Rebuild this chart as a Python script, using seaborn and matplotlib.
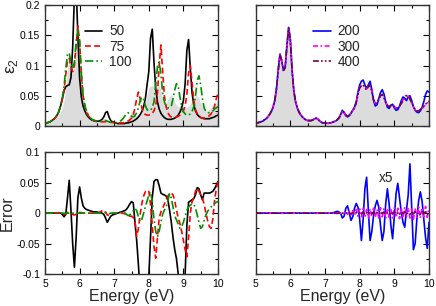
import numpy as np
import pandas as pd
import matplotlib
matplotlib.use("Agg")
import matplotlib.pyplot as plt
from matplotlib.ticker import AutoMinorLocator
import seaborn as sns

# energy grid (eV), 0.05 step
energy = [5.00 + 0.05 * i for i in range(101)]
energy = [round(e, 2) for e in energy]

# exact spectrum (grey fill)
eps_exact = [
    0.004, 0.005, 0.006, 0.007, 0.008, 0.010, 0.012, 0.015, 0.019, 0.024,
    0.031, 0.042, 0.062, 0.092, 0.118, 0.108, 0.092, 0.096, 0.132, 0.162,
    0.142, 0.092, 0.058, 0.040, 0.030, 0.023, 0.018, 0.015, 0.012, 0.010,
    0.009, 0.009, 0.009, 0.010, 0.012, 0.013, 0.011, 0.008, 0.006, 0.005,
    0.005, 0.0045, 0.0045, 0.005, 0.006, 0.007, 0.008, 0.010, 0.013, 0.018,
    0.024, 0.023, 0.018, 0.016, 0.018, 0.022, 0.026, 0.030, 0.038, 0.052,
    0.063, 0.066, 0.068, 0.063, 0.060, 0.065, 0.068, 0.058, 0.044, 0.037,
    0.038, 0.044, 0.050, 0.052, 0.047, 0.039, 0.034, 0.032, 0.034, 0.035,
    0.032, 0.030, 0.030, 0.033, 0.037, 0.042, 0.046, 0.050, 0.050, 0.045,
    0.038, 0.032, 0.027, 0.025, 0.025, 0.027, 0.030, 0.033, 0.036, 0.039,
    0.042]

eps_50 = [
    0.004, 0.005, 0.006, 0.007, 0.009, 0.011, 0.014, 0.018, 0.024, 0.033,
    0.045, 0.058, 0.065, 0.067, 0.068, 0.080, 0.130, 0.215, 0.230, 0.150,
    0.080, 0.048, 0.033, 0.025, 0.019, 0.015, 0.012, 0.010, 0.009, 0.008,
    0.008, 0.008, 0.009, 0.011, 0.015, 0.022, 0.024, 0.015, 0.009, 0.007,
    0.006, 0.005, 0.004, 0.004, 0.004, 0.004, 0.004, 0.005, 0.005, 0.006,
    0.007, 0.008, 0.010, 0.012, 0.015, 0.019, 0.024, 0.032, 0.045, 0.068,
    0.090, 0.145, 0.160, 0.105, 0.062, 0.040, 0.028, 0.021, 0.017, 0.014,
    0.012, 0.011, 0.011, 0.011, 0.012, 0.013, 0.015, 0.018, 0.023, 0.030,
    0.042, 0.070, 0.125, 0.143, 0.095, 0.055, 0.035, 0.025, 0.019, 0.016,
    0.014, 0.013, 0.012, 0.012, 0.012, 0.012, 0.013, 0.014, 0.015, 0.017,
    0.018]

eps_75 = [
    0.004, 0.005, 0.006, 0.007, 0.009, 0.011, 0.014, 0.018, 0.024, 0.033,
    0.045, 0.060, 0.085, 0.108, 0.112, 0.098, 0.090, 0.100, 0.135, 0.165,
    0.140, 0.085, 0.050, 0.032, 0.022, 0.017, 0.013, 0.011, 0.009, 0.008,
    0.007, 0.007, 0.007, 0.007, 0.007, 0.007, 0.007, 0.007, 0.006, 0.006,
    0.005, 0.005, 0.005, 0.005, 0.005, 0.005, 0.006, 0.007, 0.008, 0.010,
    0.013, 0.018, 0.030, 0.045, 0.056, 0.045, 0.030, 0.022, 0.019, 0.018,
    0.018, 0.019, 0.021, 0.025, 0.034, 0.055, 0.100, 0.134, 0.090, 0.050,
    0.032, 0.022, 0.017, 0.015, 0.014, 0.014, 0.015, 0.016, 0.018, 0.021,
    0.025, 0.033, 0.052, 0.088, 0.100, 0.072, 0.042, 0.027, 0.020, 0.016,
    0.014, 0.013, 0.013, 0.014, 0.015, 0.017, 0.020, 0.025, 0.033, 0.045,
    0.055]

eps_100 = [
    0.004, 0.005, 0.006, 0.007, 0.009, 0.011, 0.014, 0.018, 0.024, 0.033,
    0.045, 0.065, 0.095, 0.118, 0.121, 0.105, 0.095, 0.105, 0.140, 0.159,
    0.140, 0.088, 0.052, 0.034, 0.024, 0.018, 0.014, 0.011, 0.010, 0.009,
    0.008, 0.008, 0.008, 0.008, 0.009, 0.009, 0.008, 0.007, 0.006, 0.006,
    0.005, 0.005, 0.006, 0.007, 0.009, 0.012, 0.016, 0.020, 0.022, 0.020,
    0.016, 0.015, 0.017, 0.022, 0.030, 0.042, 0.048, 0.044, 0.034, 0.027,
    0.025, 0.026, 0.030, 0.040, 0.070, 0.098, 0.106, 0.085, 0.055, 0.040,
    0.033, 0.030, 0.030, 0.033, 0.045, 0.060, 0.070, 0.066, 0.048, 0.032,
    0.024, 0.020, 0.018, 0.018, 0.020, 0.024, 0.032, 0.050, 0.075, 0.083,
    0.068, 0.045, 0.030, 0.024, 0.022, 0.022, 0.023, 0.025, 0.028, 0.030,
    0.032]

eps_200 = [
    0.004, 0.005, 0.006, 0.007, 0.008, 0.010, 0.012, 0.015, 0.019, 0.024,
    0.031, 0.042, 0.062, 0.093, 0.119, 0.108, 0.092, 0.097, 0.133, 0.163,
    0.142, 0.092, 0.058, 0.040, 0.030, 0.023, 0.018, 0.015, 0.012, 0.010,
    0.009, 0.009, 0.009, 0.010, 0.012, 0.013, 0.011, 0.008, 0.006, 0.005,
    0.005, 0.0045, 0.0045, 0.005, 0.006, 0.007, 0.008, 0.010, 0.013, 0.019,
    0.026, 0.022, 0.017, 0.015, 0.017, 0.021, 0.026, 0.031, 0.040, 0.056,
    0.068, 0.074, 0.076, 0.068, 0.062, 0.068, 0.074, 0.060, 0.042, 0.033,
    0.035, 0.045, 0.055, 0.060, 0.053, 0.040, 0.031, 0.029, 0.034, 0.036,
    0.030, 0.026, 0.027, 0.033, 0.042, 0.048, 0.046, 0.042, 0.048, 0.050,
    0.042, 0.032, 0.026, 0.023, 0.022, 0.025, 0.031, 0.040, 0.052, 0.058,
    0.056]

eps_300 = [
    0.004, 0.005, 0.006, 0.007, 0.008, 0.010, 0.012, 0.015, 0.019, 0.024,
    0.031, 0.042, 0.062, 0.092, 0.118, 0.108, 0.092, 0.096, 0.132, 0.162,
    0.142, 0.092, 0.058, 0.040, 0.030, 0.023, 0.018, 0.015, 0.012, 0.010,
    0.009, 0.009, 0.009, 0.010, 0.012, 0.013, 0.011, 0.008, 0.006, 0.005,
    0.005, 0.0045, 0.0045, 0.005, 0.006, 0.007, 0.008, 0.010, 0.013, 0.018,
    0.024, 0.023, 0.018, 0.016, 0.018, 0.022, 0.026, 0.030, 0.038, 0.053,
    0.064, 0.067, 0.069, 0.064, 0.061, 0.066, 0.069, 0.058, 0.044, 0.037,
    0.038, 0.044, 0.050, 0.052, 0.047, 0.039, 0.034, 0.032, 0.034, 0.035,
    0.032, 0.030, 0.030, 0.033, 0.037, 0.043, 0.048, 0.052, 0.050, 0.045,
    0.038, 0.032, 0.027, 0.025, 0.025, 0.027, 0.029, 0.032, 0.035, 0.038,
    0.040]

eps_400 = [
    0.004, 0.005, 0.006, 0.007, 0.008, 0.010, 0.012, 0.015, 0.019, 0.024,
    0.031, 0.042, 0.062, 0.092, 0.118, 0.108, 0.092, 0.096, 0.132, 0.162,
    0.142, 0.092, 0.058, 0.040, 0.030, 0.023, 0.018, 0.015, 0.012, 0.010,
    0.009, 0.009, 0.009, 0.010, 0.012, 0.013, 0.011, 0.008, 0.006, 0.005,
    0.005, 0.0045, 0.0045, 0.005, 0.006, 0.007, 0.008, 0.010, 0.013, 0.018,
    0.024, 0.023, 0.018, 0.016, 0.018, 0.022, 0.026, 0.030, 0.038, 0.052,
    0.063, 0.066, 0.068, 0.063, 0.060, 0.065, 0.068, 0.058, 0.044, 0.037,
    0.038, 0.044, 0.050, 0.052, 0.047, 0.039, 0.034, 0.032, 0.034, 0.035,
    0.032, 0.030, 0.030, 0.033, 0.037, 0.042, 0.046, 0.050, 0.050, 0.045,
    0.038, 0.032, 0.027, 0.025, 0.025, 0.027, 0.030, 0.033, 0.036, 0.039,
    0.041]

# errors (bottom row); right panel is already multiplied by 5
err_50 = [
    0, 0, 0, 0, 0, 0, 0, 0, 0, 0,
    -0.002, -0.006, -0.002, 0.025, 0.054, 0.005, -0.050, -0.089, -0.040, 0.025,
    0.043, 0.025, 0.012, 0.008, 0.006, 0.005, 0.004, 0.003, 0.002, 0.002,
    0.002, 0.001, 0.001, 0.000, -0.002, -0.008, -0.015, -0.010, -0.005, -0.003,
    -0.002, -0.001, 0.000, 0.001, 0.002, 0.003, 0.004, 0.006, 0.010, 0.015,
    0.019, 0.017, -0.015, -0.045, -0.085, -0.130, -0.150, -0.150, -0.140, -0.125,
    -0.105, -0.040, 0.025, 0.052, 0.055, 0.055, 0.045, 0.033, 0.031, 0.030,
    0.028, 0.022, 0.005, -0.015, -0.040, -0.060, -0.075, -0.100, -0.130, -0.150,
    -0.140, -0.100, -0.020, 0.018, 0.020, 0.022, 0.024, 0.030, 0.042, 0.040,
    0.030, 0.022, 0.033, 0.033, 0.033, 0.033, 0.034, 0.036, 0.040, 0.046,
    0.052]

err_75 = [
    0, 0, 0, 0, 0, 0, 0, 0, 0, 0,
    -0.001, -0.002, -0.001, 0.001, 0.002, 0.001, -0.002, -0.003, -0.002, 0.001,
    0.001, 0.001, 0, 0, 0, 0, 0, 0, 0, 0,
    0, 0.001, 0.002, 0.004, 0.005, 0.002, -0.003, -0.004, -0.002, 0,
    0, 0, 0, 0, 0, 0, -0.001, -0.002, -0.003, -0.005,
    -0.005, -0.007, -0.014, -0.038, -0.025, -0.002, 0.016, 0.028, 0.035, 0.038,
    0.036, 0.015, -0.020, -0.055, -0.074, -0.040, -0.008, 0.002, 0.008, 0.015,
    0.022, 0.028, 0.033, 0.033, 0.030, 0.020, 0.005, -0.008, -0.017, -0.030,
    -0.045, -0.060, -0.072, -0.040, 0.000, 0.019, 0.025, 0.036, 0.041, 0.036,
    0.030, 0.024, 0.015, 0.000, -0.012, -0.022, -0.025, -0.010, 0.020, 0.040,
    0.052]

err_100 = [
    0, 0, 0, 0, 0, 0, 0, 0, 0, 0,
    0, 0, 0, 0, 0, 0, 0, 0, 0, 0,
    0, 0, 0, 0, 0, 0, 0, 0, 0, 0,
    0, 0, 0, 0, 0.001, 0.001, 0, -0.001, 0, 0,
    0, 0, 0, 0.001, 0.002, 0.002, 0.001, -0.002, -0.004, -0.003,
    0.000, 0.004, 0.008, 0.004, -0.006, -0.014, -0.010, 0.000, 0.010, 0.020,
    0.030, 0.035, 0.020, -0.010, -0.030, -0.039, -0.030, -0.015, -0.002, 0.005,
    0.010, 0.020, 0.032, 0.025, 0.010, -0.005, -0.011, -0.018, -0.025, -0.022,
    -0.015, -0.005, 0.005, 0.010, 0.013, 0.015, 0.015, 0.008, -0.003, -0.015,
    -0.025, -0.022, -0.012, -0.003, 0.003, 0.007, 0.010, 0.013, 0.016, 0.018,
    0.019]

err_200 = [
    0, 0, 0, 0, 0, 0, 0, 0, 0, 0,
    0, 0, 0, 0, 0, 0, 0, 0, 0, 0,
    0, 0, 0, 0, 0, 0, 0, 0, 0, 0,
    0, 0, 0, 0, 0, 0, 0, 0, 0, 0,
    0, 0, 0, 0, 0, 0.001, 0.002, 0.003, 0.002, 0.000,
    -0.008, -0.005, 0.008, 0.012, 0.000, -0.012, -0.006, 0.008, 0.016, 0.010,
    -0.010, -0.045, -0.010, 0.040, 0.059, 0.005, -0.045, -0.030, -0.004, 0.012,
    0.021, 0.010, -0.020, -0.045, -0.030, 0.015, 0.040, 0.015, -0.020, -0.042,
    -0.005, 0.032, 0.049, 0.025, 0.002, -0.015, -0.023, 0.005, 0.030, 0.081,
    0.010, -0.060, -0.050, -0.010, 0.020, 0.035, 0.020, -0.010, -0.040, -0.058,
    -0.015]

err_300 = [
    0, 0, 0, 0, 0, 0, 0, 0, 0, 0,
    0, 0, 0, 0, 0, 0, 0, 0, 0, 0,
    0, 0, 0, 0, 0, 0, 0, 0, 0, 0,
    0, 0, 0, 0, 0, 0, 0, 0, 0, 0,
    0, 0, 0, 0, 0, 0, 0.001, -0.001, 0.001, 0,
    0.000, 0.001, 0.002, -0.002, 0.003, -0.003, 0.004, -0.004, 0.006, -0.005,
    0.007, -0.006, 0.008, -0.007, 0.006, -0.008, 0.007, -0.005, 0.008, -0.007,
    0.006, -0.008, 0.009, -0.006, 0.007, -0.009, 0.008, -0.007, 0.006, -0.008,
    0.009, -0.007, 0.008, -0.009, 0.007, -0.008, 0.010, -0.006, 0.009, -0.008,
    0.007, -0.010, 0.008, -0.007, 0.010, -0.008, 0.009, -0.006, 0.011, -0.007,
    0.008]

err_400 = [
    0, 0, 0, 0, 0, 0, 0, 0, 0, 0,
    0, 0, 0, 0, 0, 0, 0, 0, 0, 0,
    0, 0, 0, 0, 0, 0, 0, 0, 0, 0,
    0, 0, 0, 0, 0, 0, 0, 0, 0, 0,
    0, 0, 0, 0, 0, 0, 0, 0, 0, 0,
    0, 0, 0.001, -0.001, 0.001, -0.001, 0.001, -0.001, 0.001, -0.001,
    0.002, -0.001, 0.002, -0.002, 0.001, -0.002, 0.002, -0.001, 0.002, -0.002,
    0.001, -0.002, 0.002, -0.001, 0.002, -0.002, 0.001, -0.002, 0.002, -0.001,
    0.002, -0.002, 0.001, -0.002, 0.002, -0.001, 0.002, -0.002, 0.001, -0.002,
    0.002, -0.001, 0.002, -0.002, 0.001, -0.002, 0.002, -0.001, 0.002, -0.002,
    0.001]

left_labels = ["50", "75", "100"]
right_labels = ["200", "300", "400"]
x_ticks = [5, 6, 7, 8, 9, 10]
x_ticklabels = ["5", "6", "7", "8", "9", "10"]

sns.set_theme(style="ticks")
plt.rcParams["font.family"] = ["Liberation Sans", "DejaVu Sans"]
plt.rcParams["axes.unicode_minus"] = False
plt.rcParams["mathtext.fontset"] = "custom"
plt.rcParams["mathtext.rm"] = "Liberation Sans"

styles_left = [
    dict(color="black", ls="-"),
    dict(color="#ff0000", ls=(0, (3.5, 2))),
    dict(color="#009000", ls=(0, (5, 1.8, 1, 1.8))),
]
styles_right = [
    dict(color="#0000ff", ls="-"),
    dict(color="#ff00ff", ls=(0, (3, 1.5, 1, 1.5))),
    dict(color="#670748", ls=(0, (3.5, 1.3, 1, 1.3, 1, 1.3))),
]

W, H = 436, 306
fig = plt.figure(figsize=(W / 100, H / 100), dpi=100)


def rect(x0, y_top, w, h):
    return [x0 / W, 1 - (y_top + h) / H, w / W, h / H]


ax_tl = fig.add_axes(rect(45, 5, 173, 121))
ax_tr = fig.add_axes(rect(255.7, 5, 173.3, 121))
ax_bl = fig.add_axes(rect(45, 152.3, 173, 121.7))
ax_br = fig.add_axes(rect(255.7, 152.3, 173.3, 121.7))

for ax in (ax_tl, ax_tr):
    ax.fill_between(energy, eps_exact, color="#dcdcdc", lw=0, zorder=0)

for ser, lab, st in zip([eps_50, eps_75, eps_100], left_labels, styles_left):
    sns.lineplot(x=energy, y=ser, ax=ax_tl, lw=1.2, label=lab, **st)
for ser, st in zip([err_50, err_75, err_100], styles_left):
    sns.lineplot(x=energy, y=ser, ax=ax_bl, lw=1.2, **st)
for ser, lab, st in zip([eps_200, eps_300, eps_400], right_labels, styles_right):
    sns.lineplot(x=energy, y=ser, ax=ax_tr, lw=1.2, label=lab, **st)
for ser, st in zip([err_200, err_300, err_400], styles_right):
    sns.lineplot(x=energy, y=ser, ax=ax_br, lw=1.2, **st)

for ax in (ax_tl, ax_tr, ax_bl, ax_br):
    ax.set_xlim(5, 10)
    ax.set_xticks(x_ticks)
    ax.xaxis.set_minor_locator(AutoMinorLocator(2))
    ax.yaxis.set_minor_locator(AutoMinorLocator(2))
    ax.tick_params(which="both", direction="in", top=True, right=True,
                   labelsize=7.5, width=0.8, colors="black")
    ax.tick_params(which="major", length=4)
    ax.tick_params(which="minor", length=2.5)
    for sp in ax.spines.values():
        sp.set_linewidth(1.0)
        sp.set_color("#333333")
    ax.set_xlabel("")
    ax.set_ylabel("")

for ax in (ax_tl, ax_tr):
    ax.set_ylim(0, 0.2)
    ax.set_yticks([0, 0.05, 0.1, 0.15, 0.2])
    ax.set_xticklabels([])
for ax in (ax_bl, ax_br):
    ax.set_ylim(-0.1, 0.1)
    ax.set_yticks([-0.1, -0.05, 0, 0.05, 0.1])
    ax.set_xticklabels(x_ticklabels)
    ax.set_xlabel("Energy (eV)", fontsize=11.5, labelpad=0)

ax_tl.set_yticklabels(["0", "0.05", "0.1", "0.15", "0.2"])
ax_bl.set_yticklabels(["-0.1", "-0.05", "0", "0.05", "0.1"])
ax_tr.set_yticklabels([])
ax_br.set_yticklabels([])

ax_tl.set_ylabel("ε$_2$", fontsize=12.5, labelpad=0)
ax_bl.set_ylabel("Error", fontsize=11.5, labelpad=1)

for ax, x0 in ((ax_tl, 0.23), (ax_tr, 0.33)):
    ax.legend(loc="upper left", bbox_to_anchor=(x0, 0.84), frameon=False,
              fontsize=9.8, handlelength=1.3, handletextpad=0.5,
              labelspacing=0.1, borderpad=0, borderaxespad=0)

ax_br.text(8.55, 0.058, "x5", fontsize=9.8, ha="left", va="center")

fig.savefig("out.png", dpi=100)
